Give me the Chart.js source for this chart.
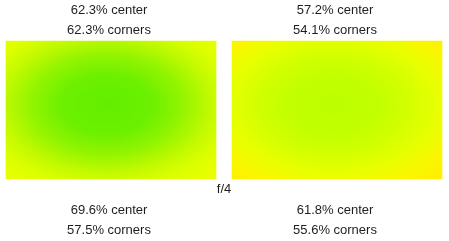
<!DOCTYPE html>
<html><head><meta charset="utf-8">
<script src="https://cdn.jsdelivr.net/npm/chart.js@4/dist/chart.umd.min.js"></script>
<style>html,body{margin:0;padding:0;background:#fff;overflow:hidden}#wrap{width:449px;height:241px;position:relative}</style>
</head><body><div id="wrap"><canvas id="c"></canvas></div>
<script>
const panels = ['A', 'B'];
const topCenter = [62.3, 57.2];
const topCorners = [62.3, 54.1];
const bottomCenter = [69.6, 61.8];
const bottomCorners = [57.5, 55.6];
const apertureLabel = 'f/4';
const barSpan = [[0, 1], [0, 1]];
const stopPositions = [0, 0.3, 0.5, 0.707, 0.85, 1];
const leftStops = ['rgb(98,238,0)', 'rgb(108,240,0)', 'rgb(145,244,0)', 'rgb(196,250,0)', 'rgb(220,255,0)', 'rgb(232,255,0)'];
const rightStops = ['rgb(188,255,0)', 'rgb(194,255,0)', 'rgb(210,255,0)', 'rgb(232,255,0)', 'rgb(248,248,0)', 'rgb(255,240,0)'];
const panelStops = [leftStops, rightStops];

const topLabels = panels.map((p, i) => [topCenter[i].toFixed(1) + '% center', topCorners[i].toFixed(1) + '% corners']);
const bottomLabels = panels.map((p, i) => [bottomCenter[i].toFixed(1) + '% center', bottomCorners[i].toFixed(1) + '% corners']);

const BAR = 210;
const FONT = { family: "'Liberation Sans', Arial, sans-serif", size: 13, lineHeight: 1.5 };
const TEXT = '#1e1e1e';

function fillFor(ctx) {
  const chart = ctx.chart, i = ctx.dataIndex;
  const xs = chart.scales.x, ys = chart.scales.y;
  const stops = panelStops[i];
  if (!xs || !ys || !chart.width) return stops[stops.length - 1];
  const cx = xs.getPixelForValue(i);
  const top = ys.getPixelForValue(barSpan[i][1]);
  const bottom = ys.getPixelForValue(barSpan[i][0]);
  const w = BAR, h = bottom - top;
  const off = document.createElement('canvas');
  off.width = chart.width; off.height = chart.height;
  const o = off.getContext('2d');
  const gx = cx - w / 2 + 0.48 * w, gy = top + 0.46 * h;
  o.save();
  o.translate(gx, gy);
  o.scale(w / 2 * Math.SQRT2, h / 2 * Math.SQRT2);
  const g = o.createRadialGradient(0, 0, 0, 0, 0, 1);
  stopPositions.forEach((p, k) => g.addColorStop(p, stops[k]));
  o.fillStyle = g;
  o.fillRect(-2, -2, 4, 4);
  o.restore();
  return chart.ctx.createPattern(off, 'no-repeat');
}

new Chart(document.getElementById('c'), {
  type: 'bar',
  data: {
    labels: panels,
    datasets: [{
      data: barSpan,
      backgroundColor: fillFor,
      borderWidth: 0,
      barThickness: BAR,
      clip: false
    }]
  },
  options: {
    responsive: true,
    maintainAspectRatio: false,
    animation: false,
    layout: { padding: { left: 111, right: 112, top: 0, bottom: 0 } },
    plugins: { legend: { display: false }, tooltip: { enabled: false } },
    scales: {
      x: { type: 'category', offset: false, display: false, weight: 0 },
      y: { type: 'linear', min: 0, max: 1, display: false },
      xTop: {
        type: 'category', position: 'top', labels: topLabels, offset: false,
        grid: { display: false, drawTicks: false }, border: { display: false },
        ticks: { padding: 1, maxRotation: 0, autoSkip: false, color: TEXT, font: FONT, labelOffset: -2 },
        afterFit: s => { s.height = 41; }
      },
      xF: {
        type: 'category', position: 'bottom', labels: panels, offset: false, weight: 1,
        grid: { display: false, drawTicks: false }, border: { display: false },
        ticks: { display: false },
        title: { display: true, text: apertureLabel, color: TEXT, padding: 0, font: { family: FONT.family, size: 13, lineHeight: 1.2 } },
        afterFit: s => { s.height = 18; }
      },
      xB: {
        type: 'category', position: 'bottom', labels: bottomLabels, offset: false, weight: 2,
        grid: { display: false, drawTicks: false }, border: { display: false },
        ticks: { padding: 4, maxRotation: 0, autoSkip: false, color: TEXT, font: FONT, labelOffset: -2 },
        afterFit: s => { s.height = 44; }
      }
    }
  }
});
</script>
</body></html>
